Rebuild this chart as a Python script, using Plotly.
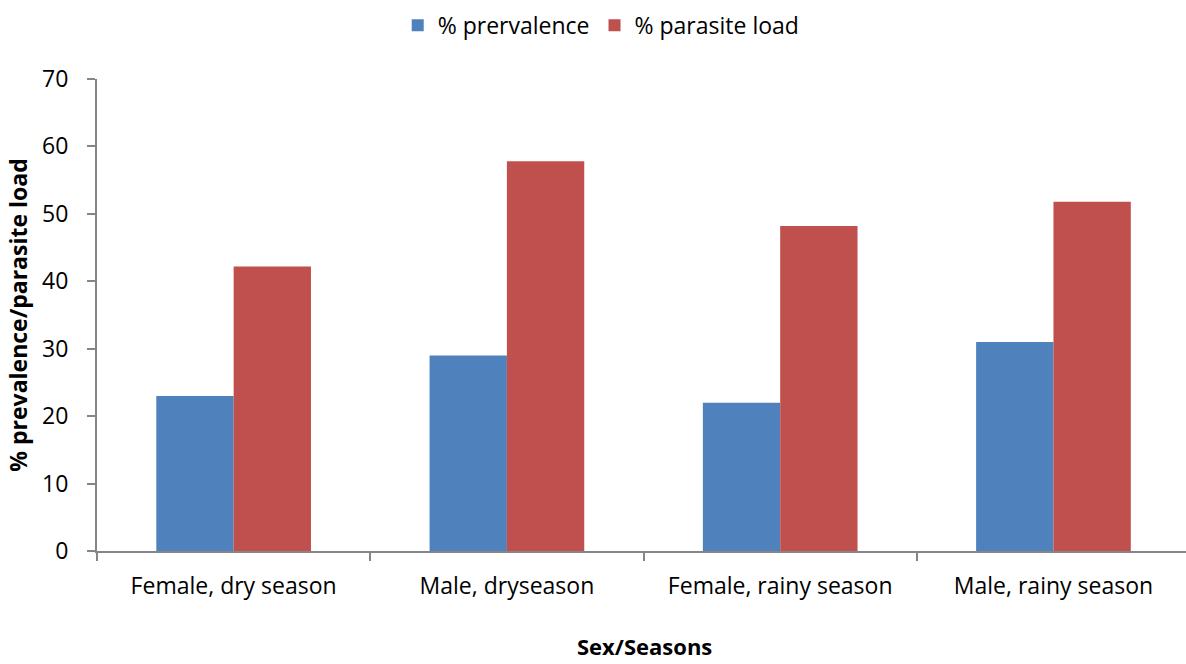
import plotly.graph_objects as go

categories = ["Female, dry season", "Male, dryseason", "Female, rainy season", "Male, rainy season"]
prevalence = [23, 29, 22, 31]
parasite_load = [42.2, 57.8, 48.2, 51.8]
y_ticks = [0, 10, 20, 30, 40, 50, 60, 70]

FONT = "Open Sans, sans-serif"
AXIS_COLOR = "#868686"

fig = go.Figure()
fig.add_trace(go.Bar(name="% prervalence", x=categories, y=prevalence,
                     marker=dict(color="#4F81BD", line=dict(width=0))))
fig.add_trace(go.Bar(name="% parasite load", x=categories, y=parasite_load,
                     marker=dict(color="#C0504D", line=dict(width=0))))

fig.update_layout(
    width=1186, height=664,
    margin=dict(l=97, r=0, t=79, b=113, pad=0),
    paper_bgcolor="white", plot_bgcolor="white",
    barmode="group", bargap=0.434, bargroupgap=0,
    font=dict(family=FONT, size=23, color="#000000"),
    legend=dict(orientation="h", x=0.463, xanchor="center", y=0.962, yref="container",
                yanchor="middle", font=dict(size=23), itemwidth=30, tracegroupgap=0),
    showlegend=True,
)
fig.add_annotation(text="<b>Sex/Seasons</b>", xref="paper", yref="paper",
                   x=0.503, y=-0.2350, xanchor="center", yanchor="bottom",
                   showarrow=False, borderpad=0, font=dict(size=22, family=FONT))

fig.update_xaxes(
    range=[-0.5, 3.485], automargin=False,
    showline=True, linecolor=AXIS_COLOR, linewidth=2,
    ticks="outside", tickson="boundaries", ticklen=8, tickcolor=AXIS_COLOR, tickwidth=2,
    showgrid=False, zeroline=False, ticklabelstandoff=13,
    tickfont=dict(size=23, family=FONT),
)
fig.update_yaxes(
    range=[0, 70], tickvals=y_ticks, automargin=False,
    showline=True, linecolor=AXIS_COLOR, linewidth=2,
    ticks="outside", ticklen=8, tickcolor=AXIS_COLOR, tickwidth=2,
    showgrid=False, zeroline=False, ticklabelstandoff=14,
    tickfont=dict(size=23, family=FONT),
    title=dict(text="<b>% prevalence/parasite load</b>", font=dict(size=23, family=FONT), standoff=8),
)

fig.write_html("out.html")
